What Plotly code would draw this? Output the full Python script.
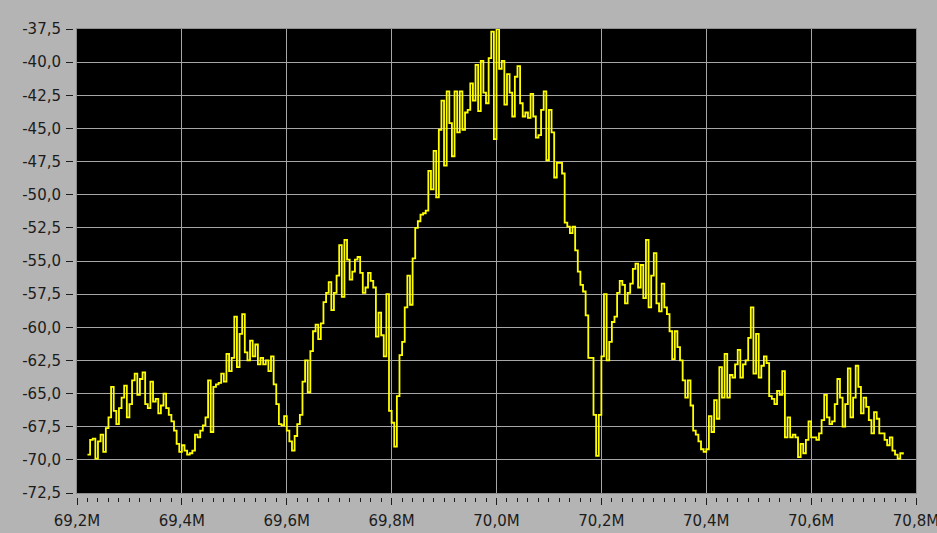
import plotly.graph_objects as go

# Spectrum trace: level in dB, sampled every 5 kHz starting at 69.22 MHz
F_START_MHZ = 69.22
F_STEP_MHZ = 0.005

level_db = [
    -69.6, -68.5, -68.4, -69.9, -68.6, -68.1, -69.4, -67.6, -66.8, -64.5,
    -66.3, -67.3, -66.1, -65.3, -64.4, -66.8, -65.8, -64.0, -63.5, -65.1,
    -63.9, -63.4, -65.8, -66.1, -64.1, -65.6, -65.4, -66.5, -65.9, -65.0,
    -66.1, -66.6, -67.1, -67.8, -68.8, -69.4, -68.9, -69.3, -69.6, -69.5,
    -69.3, -68.1, -68.3, -67.8, -67.4, -66.8, -64.0, -67.9, -64.5, -64.3,
    -64.2,
    -63.5, -64.1, -62.0, -63.3, -62.3, -59.2, -63.0, -60.5, -59.0, -61.9,
    -62.5, -61.0, -62.2, -61.3, -62.8, -62.3, -62.8, -62.5, -63.3, -62.2,
    -64.3, -65.8, -67.3, -67.4, -66.7, -67.8, -68.6, -69.3, -68.2, -67.3,
    -66.6, -64.1, -62.5, -64.9, -61.8, -60.3, -59.8, -60.9, -59.7, -58.1,
    -57.4, -56.6, -58.7, -57.4, -56.1, -53.8, -57.7, -53.4, -54.9, -56.4,
    -55.8,
    -54.9, -54.7, -55.9, -57.4, -57.0, -55.9, -56.5, -57.0, -60.7, -58.9,
    -60.6, -62.2, -57.5, -66.3, -67.2, -69.0, -65.2, -62.1, -61.1, -58.5,
    -56.1, -58.3, -54.8, -52.5, -52.0, -51.5, -51.4, -51.2, -48.2, -49.6,
    -46.7, -50.2, -45.1, -42.9, -47.8, -42.2, -44.6, -47.1, -42.2, -45.3,
    -42.2, -45.1, -43.8, -43.6, -41.6, -42.9, -40.2, -43.7, -39.9, -42.3,
    -43.1, -39.7,
    -37.7, -45.8, -37.5, -40.5, -39.9, -43.2, -40.9, -42.3, -44.1, -41.1,
    -40.3, -43.1, -44.1, -43.8, -44.2, -42.4, -44.1, -45.7, -45.5, -43.6,
    -42.2, -47.4, -43.6, -45.3, -48.7, -47.6, -47.6, -48.4, -52.1, -52.4,
    -52.9, -52.4, -54.2, -55.8, -56.8, -57.3, -59.1, -62.3, -62.3, -66.6,
    -69.7, -66.6, -62.2, -57.5, -62.5, -61.1, -59.6, -59.2, -57.4, -56.5,
    -56.8,
    -58.2, -57.4, -56.7, -55.6, -55.2, -57.0, -55.3, -57.8, -53.4, -58.5,
    -56.1, -54.4, -58.2, -58.8, -56.7, -58.5, -59.0, -60.3, -62.4, -60.3,
    -61.5, -62.5, -64.0, -65.3, -64.0, -65.9, -67.8, -68.1, -68.6, -69.2,
    -69.4, -69.2, -66.7, -67.9, -65.5, -66.9, -63.0, -65.3, -62.0, -65.3,
    -63.6, -63.8, -62.8, -61.7, -63.8, -62.8, -62.5, -60.8, -58.5, -63.5,
    -60.5,
    -63.8, -62.9, -62.2, -62.7, -65.2, -65.4, -65.8, -64.8, -65.1, -63.3,
    -68.3, -66.8, -68.3, -68.1, -68.3, -69.8, -68.8, -69.5, -68.5, -67.1,
    -68.3, -68.3, -68.5, -68.0, -67.0, -65.1, -66.8, -67.3, -67.1, -65.8,
    -63.9, -65.3, -67.5, -65.8, -63.1, -66.8, -65.3, -62.9, -64.5, -66.5,
    -65.3, -66.0, -67.0, -68.0, -66.4, -66.9, -68.0, -68.0, -68.5, -68.9,
    -68.3, -69.3, -69.6, -69.9, -69.5, -69.6,
]
freq_mhz = [round(F_START_MHZ + F_STEP_MHZ * i, 3) for i in range(len(level_db))]

# Axis ticks and their labels (comma decimal separator, hyphen minus)
x_tick_vals = [69.2, 69.4, 69.6, 69.8, 70.0, 70.2, 70.4, 70.6, 70.8]
x_tick_text = ["69,2M", "69,4M", "69,6M", "69,8M", "70,0M", "70,2M", "70,4M", "70,6M", "70,8M"]
y_tick_vals = [-72.5, -70.0, -67.5, -65.0, -62.5, -60.0, -57.5, -55.0, -52.5,
               -50.0, -47.5, -45.0, -42.5, -40.0, -37.5]
y_tick_text = ["-72,5", "-70,0", "-67,5", "-65,0", "-62,5", "-60,0", "-57,5", "-55,0", "-52,5",
               "-50,0", "-47,5", "-45,0", "-42,5", "-40,0", "-37,5"]

W, H = 937, 533
ML, MR, MT, MB = 55, 21, 29, 30
plot_left, plot_bottom = 77, 493
paper_w = W - ML - MR
paper_h = H - MT - MB
x_dom0 = (plot_left - ML) / paper_w
y_dom0 = (H - MB - plot_bottom) / paper_h
# tick rows sit a few pixels away from the black plot area
x_tick_pos = (H - MB - 497) / paper_h
y_tick_pos = (73 - ML) / paper_w

BG = "#b4b4b4"
GRID = "#a6a6a6"
INK = "#1c1c1c"
FONT = dict(family="DejaVu Sans", size=15, color=INK)

fig = go.Figure()
fig.add_trace(go.Scatter(
    x=freq_mhz, y=level_db, mode="lines",
    line=dict(color="#ffff00", width=1.8, shape="hv"),
    showlegend=False, hoverinfo="x+y",
))
# companion trace that carries the detached tick axes
fig.add_trace(go.Scatter(
    x=freq_mhz, y=level_db, mode="lines", xaxis="x2", yaxis="y2",
    line=dict(color="rgba(0,0,0,0)", width=0),
    showlegend=False, hoverinfo="skip",
))

fig.update_layout(
    width=W, height=H,
    margin=dict(l=ML, r=MR, t=MT, b=MB, autoexpand=False),
    paper_bgcolor=BG, plot_bgcolor="#000000",
    font=FONT,
    xaxis=dict(
        domain=[x_dom0, 1], range=[69.2, 70.8], automargin=False,
        tickmode="array", tickvals=x_tick_vals, showticklabels=False, ticks="",
        showgrid=True, gridcolor=GRID, gridwidth=1,
        showline=True, mirror=True, linecolor="#8e8e8e", linewidth=1,
        zeroline=False, fixedrange=True,
    ),
    yaxis=dict(
        domain=[y_dom0, 1], range=[-72.5, -37.5], automargin=False,
        tickmode="array", tickvals=y_tick_vals, showticklabels=False, ticks="",
        showgrid=True, gridcolor=GRID, gridwidth=1,
        showline=True, mirror=True, linecolor="#8e8e8e", linewidth=1,
        zeroline=False, fixedrange=True,
    ),
    xaxis2=dict(
        overlaying="x", matches="x", anchor="free", position=x_tick_pos, side="bottom",
        automargin=False, ticklabeloverflow="allow",
        tickmode="array", tickvals=x_tick_vals, ticktext=x_tick_text,
        ticks="outside", ticklen=7, tickwidth=1, tickcolor=INK,
        minor=dict(tickmode="linear", tick0=69.2, dtick=0.02, ticks="outside",
                   ticklen=4, tickwidth=1, tickcolor=INK, showgrid=False),
        ticklabelstandoff=3,
        showgrid=False, showline=False, zeroline=False, fixedrange=True,
        tickfont=FONT,
    ),
    yaxis2=dict(
        overlaying="y", matches="y", anchor="free", position=y_tick_pos, side="left",
        automargin=False, ticklabeloverflow="allow",
        tickmode="array", tickvals=y_tick_vals, ticktext=y_tick_text,
        ticks="outside", ticklen=7, tickwidth=1, tickcolor=INK,
        ticklabelstandoff=2,
        showgrid=False, showline=False, zeroline=False, fixedrange=True,
        tickfont=FONT,
    ),
)

fig.write_html("out.html")
